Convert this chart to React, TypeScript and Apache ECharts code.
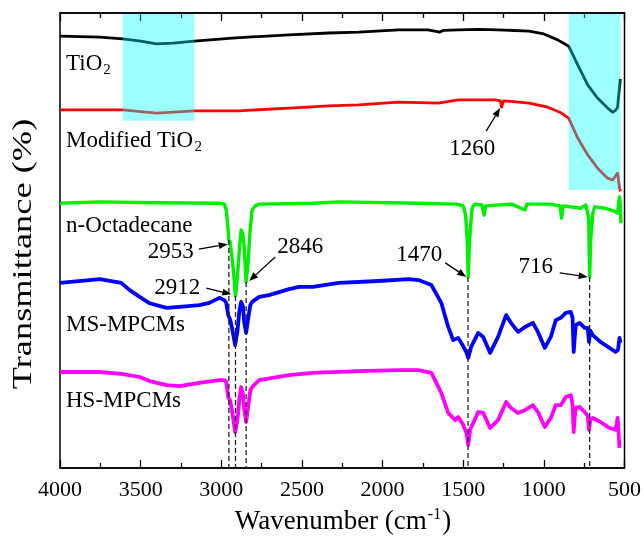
import React, { useEffect, useRef } from "react";
import * as echarts from "echarts";

const FONT = "'Liberation Serif', 'Times New Roman', serif";

// [wavenumber (cm-1), transmittance (a.u., offset)]
const tio2: number[][] = [
  [4000, 94.9], [3753, 94.7], [3611, 94.3], [3500, 93.8], [3401, 93.2], [3300, 93.4], [3167, 93.8],
  [2932, 94.5], [2580, 95.2], [2333, 95.6], [2148, 95.8], [1901, 96.3], [1720, 96.3], [1660, 95.9],
  [1648, 95.8], [1620, 96.2], [1531, 96.3], [1407, 96.4], [1284, 96.3], [1093, 96.0], [1000, 95.4],
  [914, 94.1], [846, 92.7], [790, 88.6], [728, 84.2], [667, 81.3], [605, 79.1], [574, 78.2],
  [555, 78.6], [543, 79.3], [531, 83.7], [526, 85.5],
];

const modifiedTio2: number[][] = [
  [4000, 78.7], [3611, 78.7], [3401, 78.0], [3167, 78.5], [2889, 78.5], [2580, 79.1], [2333, 79.6],
  [2148, 79.8], [1901, 80.4], [1654, 80.2], [1531, 80.9], [1300, 80.9], [1270, 80.7], [1262, 79.3],
  [1250, 80.7], [1093, 80.2], [975, 79.3], [901, 78.2], [846, 76.9], [790, 72.5], [728, 68.8],
  [667, 65.9], [605, 63.7], [574, 63.3], [543, 64.8], [531, 61.5], [525, 60.8],
];

const octadecane: number[][] = [
  [4000, 58.2], [3753, 58.5], [3400, 58.3], [3012, 58.2], [2981, 58.0], [2969, 56.7], [2960, 53.4],
  [2953, 50.1], [2945, 49.7], [2935, 46.8], [2925, 43.5], [2912, 37.8], [2900, 42.0], [2888, 48.0],
  [2877, 52.3], [2867, 51.6], [2857, 48.0], [2846, 40.9], [2835, 44.6], [2822, 51.9], [2809, 56.7],
  [2790, 57.6], [2765, 58.0], [2432, 58.2], [2272, 58.5], [1778, 58.2], [1540, 58.0], [1500, 57.6],
  [1485, 55.6], [1475, 50.0], [1469, 42.0], [1463, 48.0], [1457, 52.0], [1445, 57.1], [1430, 58.0],
  [1385, 57.8], [1370, 55.6], [1360, 57.6], [1200, 58.0], [1117, 56.7], [1105, 58.0], [960, 58.0],
  [900, 57.6], [890, 54.9], [880, 57.6], [772, 57.1], [740, 57.8], [722, 55.0], [716, 42.0],
  [710, 50.0], [697, 55.8], [685, 57.4], [623, 57.1], [560, 56.4], [543, 56.0], [531, 59.6],
  [527, 58.5], [522, 53.8],
];

const msMpcms: number[][] = [
  [4000, 40.7], [3753, 41.5], [3620, 40.7], [3568, 39.1], [3506, 37.6], [3444, 36.2], [3339, 35.2],
  [3259, 35.4], [3136, 35.8], [3074, 36.3], [3012, 37.4], [2981, 36.9], [2969, 36.3], [2957, 33.6],
  [2945, 32.6], [2932, 30.5], [2914, 27.0], [2900, 30.0], [2888, 34.5], [2877, 36.5], [2866, 35.6],
  [2858, 32.0], [2846, 29.7], [2835, 32.5], [2820, 35.8], [2809, 36.5], [2765, 37.6], [2704, 38.0],
  [2580, 39.3], [2518, 39.8], [2432, 39.8], [2272, 40.7], [2025, 41.1], [1839, 41.5], [1778, 41.3],
  [1697, 40.2], [1636, 36.3], [1593, 31.0], [1562, 28.1], [1531, 28.6], [1512, 27.5], [1481, 25.5],
  [1469, 24.2], [1451, 26.6], [1407, 29.7], [1376, 28.8], [1333, 25.3], [1284, 28.8], [1234, 33.6],
  [1204, 31.9], [1160, 29.9], [1117, 31.0], [1068, 31.9], [1037, 29.9], [994, 26.4], [957, 28.8],
  [926, 32.5], [895, 33.0], [864, 34.1], [833, 34.3], [822, 33.0], [815, 25.5], [809, 28.5],
  [802, 31.4], [778, 31.9], [747, 30.8], [728, 30.8], [720, 27.7], [712, 30.2], [697, 29.2],
  [648, 27.7], [593, 26.4], [555, 25.5], [540, 26.0], [531, 28.6], [525, 27.5],
];

const hsMpcms: number[][] = [
  [4000, 21.1], [3753, 21.1], [3620, 20.7], [3506, 20.0], [3444, 19.1], [3339, 18.2], [3259, 18.0],
  [3136, 18.7], [3012, 19.3], [2981, 19.3], [2969, 18.9], [2957, 15.6], [2945, 14.8], [2932, 12.3],
  [2914, 7.9], [2900, 10.5], [2888, 15.0], [2877, 17.8], [2866, 16.5], [2858, 13.0], [2846, 10.1],
  [2835, 13.0], [2820, 17.0], [2809, 17.8], [2765, 19.3], [2580, 20.4], [2432, 20.9], [2148, 21.3],
  [1901, 21.5], [1778, 21.5], [1697, 20.9], [1636, 16.5], [1593, 12.1], [1549, 10.5], [1531, 11.2],
  [1500, 9.5], [1478, 7.5], [1469, 5.1], [1457, 8.4], [1407, 12.3], [1376, 12.1], [1333, 8.8],
  [1284, 10.5], [1234, 14.5], [1204, 13.2], [1160, 12.1], [1117, 12.7], [1068, 13.8], [1037, 12.3],
  [994, 9.0], [957, 11.0], [926, 13.8], [895, 13.8], [864, 15.6], [833, 16.0], [822, 14.0],
  [815, 7.9], [809, 11.0], [802, 13.2], [778, 13.4], [747, 12.3], [728, 11.5], [720, 8.4],
  [712, 10.5], [697, 11.0], [648, 10.1], [593, 8.8], [555, 8.4], [543, 11.0], [531, 4.4],
];

// dashed guide lines: wavenumber and the transmittance where they start
const guideWn = [2953, 2912, 2846, 1470, 716];
const guideTop = [50.1, 37.8, 40.9, 42.0, 42.0];

// peak annotations: label, tip wavenumber, tip transmittance
const annoText = ["2953", "2912", "2846", "1470", "716", "1260"];
const annoWn = [2960, 2938, 2827, 1481, 728, 1271];
const annoT = [49.2, 38.2, 41.1, 42.0, 42.0, 79.1];
// layout offsets (px) of arrow tail and label centre relative to the tip
const annoTail = [[-29, 5], [-25, -6], [26, -24], [-21, -14], [-28, -4], [-14, 23]];
const annoLabel = [[-57, 6], [-54, -8], [51, -35], [-47, -23], [-52, -11], [-28, 39]];

// highlighted bands [from wn, to wn, lower transmittance]
const bands = [[3611, 3167, 76.3], [846, 525, 61.1]];

const xTicks = [4000, 3500, 3000, 2500, 2000, 1500, 1000, 500];

export default function App() {
  const ref = useRef<HTMLDivElement>(null);
  useEffect(() => {
    const chart = echarts.init(ref.current!, null, { renderer: "svg" });
    const line = (name: string, data: number[][], color: string, width: number) => ({
      type: "line", name, data, symbol: "none", showSymbol: false, silent: true,
      lineStyle: { color, width, join: "round" }, z: 3,
    });
    const guides = guideWn.map((wn, i) => ({
      type: "line", data: [[wn, guideTop[i]], [wn, 0]], symbol: "none", silent: true,
      lineStyle: { color: "#222", width: 1.3, type: [5, 3] }, z: 4,
    }));
    const axisCommon = {
      type: "value", min: 500, max: 4000, interval: 500, inverse: true,
      axisLine: { show: true, lineStyle: { color: "#000", width: 1.5 } },
      axisTick: { show: true, inside: true, length: 8, lineStyle: { color: "#000", width: 1.3 } },
      minorTick: { show: true, splitNumber: 2, length: 5, lineStyle: { color: "#000", width: 1.3 } },
      splitLine: { show: false },
      minorSplitLine: { show: false },
    };
    chart.setOption({
      animation: false,
      grid: { left: 60, right: 17, top: 13, bottom: 68, show: true, borderColor: "#000", borderWidth: 1.5 },
      xAxis: [
        {
          ...axisCommon, position: "bottom",
          axisLabel: {
            color: "#000", fontSize: 22, fontFamily: FONT, margin: 9, showMinLabel: true, showMaxLabel: true,
            formatter: (v: number) => (xTicks.includes(v) ? String(v) : ""),
          },
        },
        { ...axisCommon, position: "top", axisLabel: { show: false } },
      ],
      yAxis: { type: "value", min: 0, max: 100, show: false },
      series: [
        line("TiO2", tio2, "#000000", 2.8),
        line("Modified TiO2", modifiedTio2, "#ff0000", 2.8),
        line("n-Octadecane", octadecane, "#00ee00", 3.4),
        line("MS-MPCMs", msMpcms, "#0000ff", 3.8),
        line("HS-MPCMs", hsMpcms, "#ff00ff", 3.8),
        ...guides,
      ],
    });

    const px = (wn: number, t: number) => chart.convertToPixel({ gridIndex: 0 }, [wn, t]) as number[];
    const graphics: any[] = [];
    bands.forEach(([a, b, lo]) => {
      const p1 = px(a, 99.8);
      const p2 = px(b, lo);
      graphics.push({
        type: "rect", z: 100, silent: true,
        shape: { x: p1[0], y: p1[1], width: p2[0] - p1[0], height: p2[1] - p1[1] },
        style: { fill: "rgba(0,255,255,0.38)" },
      });
    });
    annoText.forEach((txt, i) => {
      const tip = px(annoWn[i], annoT[i]);
      const tail = [tip[0] + annoTail[i][0], tip[1] + annoTail[i][1]];
      const dx = tip[0] - tail[0], dy = tip[1] - tail[1];
      const len = Math.hypot(dx, dy);
      const ux = dx / len, uy = dy / len;
      const hl = 9, hw = 3.5;
      const base = [tip[0] - ux * hl, tip[1] - uy * hl];
      graphics.push({
        type: "line", z: 110, silent: true,
        shape: { x1: tail[0], y1: tail[1], x2: base[0], y2: base[1] },
        style: { stroke: "#000", lineWidth: 1.3 },
      });
      graphics.push({
        type: "polygon", z: 110, silent: true,
        shape: { points: [tip, [base[0] - uy * hw, base[1] + ux * hw], [base[0] + uy * hw, base[1] - ux * hw]] },
        style: { fill: "#000" },
      });
      graphics.push({
        type: "text", z: 110, silent: true,
        x: tip[0] + annoLabel[i][0], y: tip[1] + annoLabel[i][1],
        style: { text: txt, fontSize: 23, fontFamily: FONT, fill: "#000", align: "center", verticalAlign: "middle" },
      });
    });
    const rich = {
      a: { fontSize: 23, fontFamily: FONT, fill: "#000", lineHeight: 26 },
      b: { fontSize: 15, fontFamily: FONT, fill: "#000", lineHeight: 15, padding: [13, 0, 0, 1] },
    };
    const seriesLabels: [string, number][] = [
      ["{a|TiO}{b|2}", 62],
      ["{a|Modified TiO}{b|2}", 139],
      ["{a|n-Octadecane}", 224],
      ["{a|MS-MPCMs}", 323],
      ["{a|HS-MPCMs}", 399],
    ];
    seriesLabels.forEach(([t, y]) => {
      graphics.push({
        type: "text", z: 110, silent: true, x: 66, y,
        style: { text: t, rich, align: "left", verticalAlign: "middle" },
      });
    });
    graphics.push({
      type: "text", z: 110, silent: true, x: 22, y: 254, rotation: Math.PI / 2, scaleX: 1.3,
      style: { text: "Transmittance (%)", fontSize: 28, fontFamily: FONT, fill: "#000", align: "center", verticalAlign: "middle" },
    });
    graphics.push({
      type: "text", z: 110, silent: true, x: 343, y: 520,
      style: {
        text: "{a|Wavenumber (cm}{s|-1}{a|)}", align: "center", verticalAlign: "middle",
        rich: {
          a: { fontSize: 27, fontFamily: FONT, fill: "#000", lineHeight: 30 },
          s: { fontSize: 16, fontFamily: FONT, fill: "#000", lineHeight: 16, padding: [0, 1, 14, 1] },
        },
      },
    });
    chart.setOption({ graphic: graphics });
    return () => chart.dispose();
  }, []);
  return <div ref={ref} style={{ position: "fixed", left: 0, top: 0, width: 644, height: 536 }} />;
}
